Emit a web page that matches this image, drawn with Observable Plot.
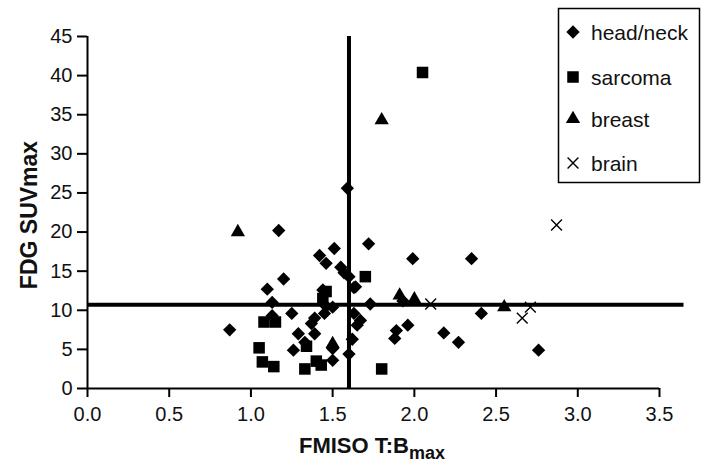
<!DOCTYPE html>
<html>
<head>
<meta charset="utf-8">
<script src="https://cdn.jsdelivr.net/npm/d3@7"></script>
<script src="https://cdn.jsdelivr.net/npm/@observablehq/plot@0.6"></script>
<style>
  html, body { margin: 0; padding: 0; background: #fff; }
  #chart svg { display: block; }
</style>
</head>
<body>
<div id="chart"></div>
<script>
// ---- data ----
const categories = ["head/neck", "sarcoma", "breast", "brain"];

const headNeckX = [0.87,1.17,1.20,1.10,1.13,1.13,1.25,1.29,1.33,1.26,1.39,1.39,1.37,1.45,1.50,1.44,1.46,1.42,1.46,1.51,1.55,1.57,1.60,1.59,1.72,1.99,1.63,1.73,1.63,1.67,1.65,1.62,1.50,1.50,1.60,1.89,1.88,1.96,1.93,2.18,2.27,2.35,2.41,2.76,1.64];
const headNeckY = [7.5,20.2,14.0,12.7,11.0,9.3,9.6,7.0,5.9,4.9,7.0,9.0,8.3,9.6,10.4,12.6,10.5,17.0,16.0,17.9,15.5,14.8,14.3,25.6,18.5,16.6,12.9,10.8,9.6,8.7,8.1,6.3,5.1,3.6,4.4,7.4,6.4,8.1,11.2,7.1,5.9,16.6,9.6,4.9,13.0];

const sarcomaX = [1.08,1.15,1.05,1.07,1.14,1.44,1.46,1.70,1.34,1.33,1.40,1.43,1.80,2.05];
const sarcomaY = [8.5,8.5,5.2,3.4,2.8,11.5,12.4,14.3,5.4,2.5,3.5,3.0,2.5,40.4];

const breastX = [0.92,1.80,1.91,2.00,2.55,1.50];
const breastY = [20.0,34.3,11.9,11.4,10.4,5.7];

const brainX = [2.10,2.87,2.66,2.71];
const brainY = [10.8,20.9,9.0,10.4];

const xTicks = [0,0.5,1,1.5,2,2.5,3,3.5];
const yTicks = [0,5,10,15,20,25,30,35,40,45];
const fmisoCut = 1.6;
const fdgCut = 10.7;

// ---- build tables ----
const toRows = (xs, ys) => xs.map((x, i) => ({x, y: ys[i]}));
const series = {
  "head/neck": toRows(headNeckX, headNeckY),
  "sarcoma": toRows(sarcomaX, sarcomaY),
  "breast": toRows(breastX, breastY),
  "brain": toRows(brainX, brainY)
};

const symbolOf = {"head/neck": "diamond2", "sarcoma": "square", "breast": "triangle", "brain": "times"};
const d3SymbolOf = {"head/neck": d3.symbolDiamond2, "sarcoma": d3.symbolSquare, "breast": d3.symbolTriangle, "brain": d3.symbolTimes};
const rOf = {"head/neck": 6, "sarcoma": 6.5, "breast": 5.3, "brain": 5};

const font = "Liberation Sans, Arial, Helvetica, sans-serif";

const dotMarks = categories.map(c => c === "brain"
  ? Plot.dot(series[c], {x: "x", y: "y", symbol: symbolOf[c], r: rOf[c], stroke: "#000", strokeWidth: 1.4, fill: "none"})
  : Plot.dot(series[c], {x: "x", y: "y", symbol: symbolOf[c], r: rOf[c], fill: "#000", stroke: "none"}));

const chart = Plot.plot({
  width: 702,
  height: 465,
  marginLeft: 87,
  marginRight: 43,
  marginTop: 36,
  marginBottom: 77,
  style: {fontFamily: font, background: "#fff", overflow: "visible"},
  x: {domain: [0, 3.5], ticks: xTicks},
  y: {domain: [0, 45], ticks: yTicks},
  marks: [
    Plot.axisX({ticks: xTicks, tickFormat: d => d.toFixed(1), tickSize: 9, tickPadding: 9, fontSize: 20, strokeWidth: 2, stroke: "#000", fill: "#111", label: null}),
    Plot.axisY({ticks: yTicks, tickSize: 10, tickPadding: 5, fontSize: 20, strokeWidth: 2, stroke: "#000", fill: "#111", label: null}),
    Plot.ruleY([0], {stroke: "#000", strokeWidth: 2}),
    Plot.ruleX([0], {stroke: "#000", strokeWidth: 2}),
    Plot.ruleX([fmisoCut], {y1: 0, y2: 45, stroke: "#000", strokeWidth: 4}),
    Plot.ruleY([fdgCut], {x1: 0, x2: 3.65, stroke: "#000", strokeWidth: 4}),
    ...dotMarks
  ]
});

const svg = d3.select(chart);

// axis titles (with subscript)
const xt = svg.append("text")
  .attr("x", 372).attr("y", 453)
  .attr("text-anchor", "middle")
  .attr("font-family", font).attr("font-weight", "bold").attr("font-size", 22).attr("fill", "#111");
xt.append("tspan").text("FMISO T:B");
xt.append("tspan").attr("font-size", 18).attr("dy", 6).text("max");

svg.append("text")
  .attr("transform", "translate(37,215) rotate(-90)")
  .attr("text-anchor", "middle")
  .attr("font-family", font).attr("font-weight", "bold").attr("font-size", 23).attr("fill", "#111")
  .text("FDG SUVmax");

// legend box
const lg = svg.append("g").attr("text-anchor", "start");
lg.append("rect").attr("x", 558.5).attr("y", 8.5).attr("width", 141).attr("height", 174)
  .attr("fill", "#fff").attr("stroke", "#000").attr("stroke-width", 1.5);
const legendY = [32, 77, 119, 163];
categories.forEach((c, i) => {
  const size = Math.PI * rOf[c] * rOf[c];
  const p = lg.append("path")
    .attr("d", d3.symbol(d3SymbolOf[c], size)())
    .attr("transform", `translate(573,${legendY[i]})`);
  if (c === "brain") p.attr("fill", "none").attr("stroke", "#000").attr("stroke-width", 1.4);
  else p.attr("fill", "#000");
  lg.append("text").attr("x", 591).attr("y", legendY[i]).attr("dy", "0.36em")
    .attr("text-anchor", "start")
    .attr("font-family", font).attr("font-size", 21).attr("fill", "#111").text(c);
});

document.getElementById("chart").appendChild(chart);
</script>
</body>
</html>
